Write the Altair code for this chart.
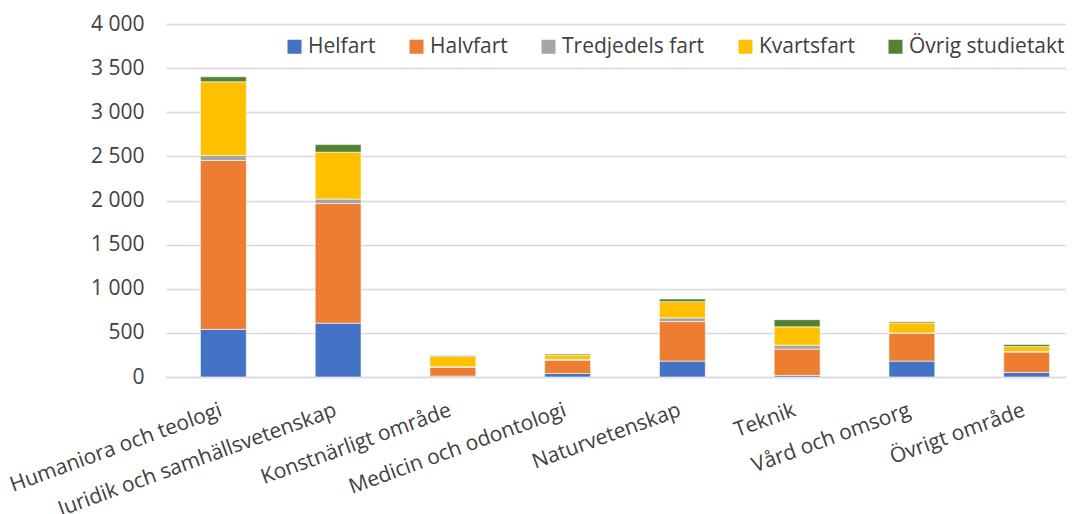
import altair as alt
import pandas as pd

categories = ["Humaniora och teologi", "Juridik och samhällsvetenskap", "Konstnärligt område",
              "Medicin och odontologi", "Naturvetenskap", "Teknik", "Vård och omsorg", "Övrigt område"]
series = ["Helfart", "Halvfart", "Tredjedels fart", "Kvartsfart", "Övrig studietakt"]
colors = ["#4472C4", "#ED7D31", "#A5A5A5", "#FFC000", "#548235"]

helfart = [540, 610, 10, 40, 180, 18, 180, 52]
halvfart = [1913, 1355, 100, 150, 448, 298, 317, 230]
tredjedels = [57, 51, 5, 10, 42, 45, 3, 7]
kvartsfart = [835, 531, 118, 50, 184, 207, 113, 56]
ovrig = [57, 87, 10, 12, 30, 82, 14, 23]

values = [helfart, halvfart, tredjedels, kvartsfart, ovrig]
rows = []
for si, (s, vals) in enumerate(zip(series, values)):
    for c, v in zip(categories, vals):
        rows.append({"Område": c, "Studietakt": s, "Antal": v, "idx": si})
df = pd.DataFrame(rows)

FONT = "Open Sans"

chart = alt.Chart(df).mark_bar(stroke="white", strokeWidth=0.6).encode(
    x=alt.X("Område:N", sort=categories, title=None,
            scale=alt.Scale(range=[0, 918], paddingInner=0.6, paddingOuter=0.3),
            axis=alt.Axis(labelAngle=340, labelAlign="right", labelBaseline="top",
                          labelPadding=22, labelOffset=-6, ticks=False, domainColor="#D9D9D9",
                          domainWidth=1.3, labelFont=FONT, labelFontSize=21, labelColor="#404040",
                          labelLimit=500)),
    y=alt.Y("Antal:Q", title=None, stack="zero",
            scale=alt.Scale(domain=[0, 4000], nice=False),
            axis=alt.Axis(values=list(range(0, 4001, 500)), format=",d", ticks=False, domain=False,
                          gridColor="#D9D9D9", gridWidth=1.3, labelPadding=22,
                          labelFont=FONT, labelFontSize=21, labelColor="#404040")),
    color=alt.Color("Studietakt:N", sort=series,
                    scale=alt.Scale(domain=series, range=colors),
                    legend=alt.Legend(title=None, orient="none", direction="horizontal",
                                      legendX=118, legendY=12, symbolType="square", symbolSize=196,
                                      symbolStrokeWidth=0, labelFont=FONT, labelFontSize=21,
                                      labelColor="#404040", labelOffset=3, columnPadding=30,
                                      columns=5)),
    order=alt.Order("idx:Q", sort="ascending"),
).properties(
    width=900, height=353,
    autosize=alt.AutoSizeParams(type="none"),
    padding={"left": 158, "top": 16, "right": 0, "bottom": 137},
).configure(
    locale={"number": {"decimal": ",", "thousands": "\u00a0", "grouping": [3], "currency": ["", " kr"]}}
).configure_view(stroke=None)

chart.save("out.html", embed_options={"renderer": "svg", "actions": False})
